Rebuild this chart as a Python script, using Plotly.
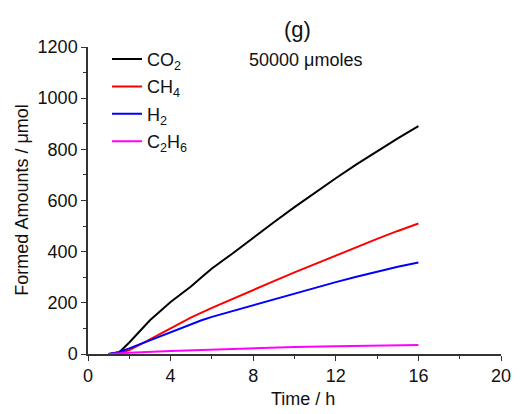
import plotly.graph_objects as go

t_co2 = [1.0, 1.5, 2, 3, 4, 5, 5.5, 6, 7, 8, 9, 10, 11, 12, 13, 14, 15, 16]
co2 = [0, 6, 45, 132, 203, 265, 300, 334, 393, 455, 515, 574, 631, 687, 741, 793, 843, 891]

t_ch4 = [1.0, 1.5, 2, 2.5, 3, 4, 5, 6, 7, 8, 9, 10, 11, 12, 13, 14, 15, 16]
ch4 = [0, 2, 15, 35, 57, 100, 143, 180, 216, 250, 285, 319, 352, 386, 418, 450, 481, 510]

t_h2 = [1.0, 1.5, 2, 2.5, 3, 4, 5, 5.5, 6, 7, 8, 9, 10, 11, 12, 13, 14, 15, 16]
h2 = [0, 8, 22, 38, 52, 85, 117, 132, 145, 168, 190, 212, 235, 258, 281, 302, 322, 341, 358]

t_c2h6 = [1.0, 2, 4, 6, 8, 10, 12, 14, 16]
c2h6 = [0, 5, 12, 18, 23, 27, 30, 33, 35]

names = ["CO<sub>2</sub>", "CH<sub>4</sub>", "H<sub>2</sub>", "C<sub>2</sub>H<sub>6</sub>"]
colors = ["#000000", "#ff0000", "#0000ff", "#ff00ff"]

FONT = "Liberation Sans, Arial, sans-serif"

fig = go.Figure()
for i, (tx, ys, nm, c) in enumerate(zip([t_co2, t_ch4, t_h2, t_c2h6], [co2, ch4, h2, c2h6], names, colors)):
    fig.add_trace(go.Scatter(x=tx, y=ys, mode="lines", name=nm, legendgroup=f"g{i}",
                             line=dict(color=c, width=2)))

axis_common = dict(
    showline=True, linecolor="#333333", linewidth=1.5,
    ticks="outside", ticklen=5, tickwidth=1.2, tickcolor="#333333",
    showgrid=False, zeroline=False,
    tickfont=dict(family=FONT, size=18, color="#111111"),
)

fig.update_xaxes(range=[0, 20], tickvals=[0, 4, 8, 12, 16, 20],
                 minor=dict(ticks="outside", ticklen=3, tickvals=[2, 6, 10, 14, 18], tickcolor="#333333"),
                 **axis_common)
fig.update_yaxes(range=[0, 1200], tickvals=[0, 200, 400, 600, 800, 1000, 1200],
                 minor=dict(ticks="outside", ticklen=3, tickvals=[100, 300, 500, 700, 900, 1100], tickcolor="#333333"),
                 **axis_common)

ann = dict(xref="paper", yref="paper", showarrow=False, xanchor="center", yanchor="middle")
fig.update_layout(
    width=523, height=414,
    margin=dict(l=88, r=18, t=47, b=60),
    plot_bgcolor="white", paper_bgcolor="white",
    font=dict(family=FONT, size=18, color="#111111"),
    showlegend=True,
    legend=dict(x=0.046, y=1.02, xanchor="left", yanchor="top",
                bgcolor="rgba(0,0,0,0)", font=dict(family=FONT, size=18),
                tracegroupgap=1, itemwidth=30),
    annotations=[
        dict(text="(g)", x=(300 - 88) / 417, y=(354 - 30) / 307, font=dict(family=FONT, size=22), **ann),
        dict(text="50000 μmoles", x=(308 - 88) / 417, y=(354 - 60) / 307, font=dict(family=FONT, size=18), **ann),
        dict(text="Time / h", x=(305 - 88) / 417, y=-(399 - 354) / 307, font=dict(family=FONT, size=18), **ann),
        dict(text="Formed Amounts / μmol", x=-(88 - 21) / 417, y=(354 - 200) / 307, textangle=-90,
             font=dict(family=FONT, size=18), **ann),
    ],
)

fig.write_html("out.html")
